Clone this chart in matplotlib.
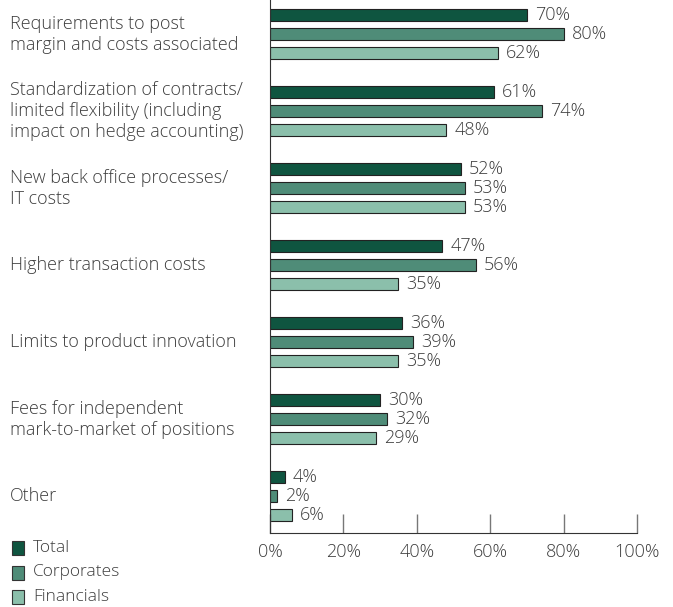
import matplotlib.pyplot as plt
import numpy as np
from matplotlib.patches import Rectangle

plt.rcParams['font.family'] = ['Open Sans', 'DejaVu Sans']

# datos
categories = [
    'Requirements to post\nmargin and costs associated',
    'Standardization of contracts/\nlimited flexibility (including\nimpact on hedge accounting)',
    'New back office processes/\nIT costs',
    'Higher transaction costs',
    'Limits to product innovation',
    'Fees for independent\nmark-to-market of positions',
    'Other',
]
total = [70, 61, 52, 47, 36, 30, 4]
corporates = [80, 74, 53, 56, 39, 32, 2]
financials = [62, 48, 53, 35, 35, 29, 6]
series_names = ['Total', 'Corporates', 'Financials']
colors = ['#0f5540', '#4f8c78', '#8bbfab']
text_color = '#3d3d3d'
fs = 13

fig = plt.figure(figsize=(6.73, 6.07), dpi=100)
ax = fig.add_axes([270 / 673, 1 - 533 / 607, 367 / 673, 533 / 607])

centers = -4 * np.arange(len(categories))
for k, vals in enumerate([total, corporates, financials]):
    ys = centers + 1 - k
    ax.barh(ys, vals, height=0.63, color=colors[k], edgecolor='#222222', linewidth=0.8)
    for y, v in zip(ys, vals):
        ax.text(v + 2.2, y, f'{v}%', va='center', ha='left', fontsize=fs,
                color=text_color, weight='light')

ax.set_xlim(0, 100)
ax.set_ylim(centers[-1] - 1.92, 1.77)
ax.set_yticks([])
ax.set_xticks(np.arange(0, 101, 20))
ax.set_xticklabels([f'{t}%' for t in range(0, 101, 20)], fontsize=fs,
                   color=text_color, weight='light')
ax.tick_params(axis='x', direction='in', length=14, width=1, color='#777777', pad=7)
for s in ['top', 'right']:
    ax.spines[s].set_visible(False)
ax.spines['left'].set_color('#333333')
ax.spines['bottom'].set_color('#333333')

# etiquetas de categorias
for c, y in zip(categories, centers):
    yf = ax.transData.transform((0, y))[1] / fig.bbox.height
    fig.text(10 / 673, yf, c, ha='left', va='center', fontsize=fs,
             color=text_color, linespacing=1.22, weight='light')

# leyenda
for k, name in enumerate(series_names):
    yp = 548 + 24.5 * k
    fig.patches.append(Rectangle((12 / 673, 1 - (yp + 7) / 607), 12 / 673, 14 / 607,
                                 transform=fig.transFigure, facecolor=colors[k],
                                 edgecolor='#333333', linewidth=0.8))
    fig.text(33 / 673, 1 - yp / 607, name, ha='left', va='center', fontsize=12.5,
             color=text_color, weight='light')

fig.savefig('out.png', dpi=100)
